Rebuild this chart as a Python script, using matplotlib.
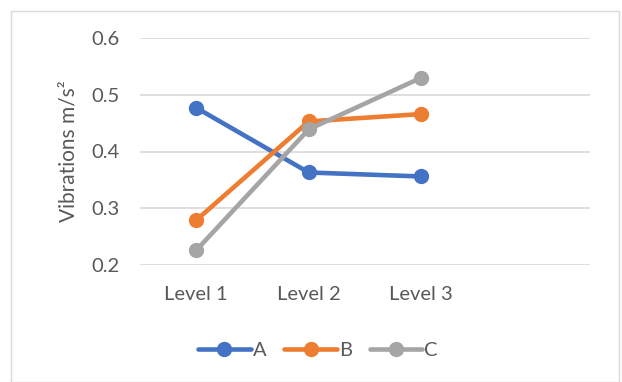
import matplotlib.pyplot as plt
from matplotlib.patches import Rectangle

plt.rcParams['font.family'] = ['Lato', 'DejaVu Sans']

levels = ['Level 1', 'Level 2', 'Level 3']
a_vals = [0.477, 0.363, 0.356]
b_vals = [0.279, 0.453, 0.466]
c_vals = [0.226, 0.439, 0.530]
series = [('A', a_vals, '#4472C4'), ('B', b_vals, '#ED7D31'), ('C', c_vals, '#A5A5A5')]

txt = '#595959'

fig = plt.figure(figsize=(6.22, 3.82), dpi=100)
# chart border
fig.patches.append(Rectangle((11 / 622, 0), 608 / 622, 371 / 382, transform=fig.transFigure,
                             fill=False, edgecolor='#d9d9d9', linewidth=1))

ax = fig.add_axes([140 / 622, 1 - 265 / 382, 450 / 622, 227 / 382])
x = list(range(len(levels)))
for name, vals, col in series:
    ax.plot(x, vals, color=col, linewidth=3.3, marker='o', markersize=10, label=name,
            solid_capstyle='round', zorder=3)

ax.set_xlim(-0.5, 3.5)
ax.set_ylim(0.2, 0.6)
ax.set_yticks([0.2, 0.3, 0.4, 0.5, 0.6])
ax.set_yticklabels(['0.2', '0.3', '0.4', '0.5', '0.6'])
ax.set_xticks(x)
ax.set_xticklabels(levels)
ax.grid(axis='y', color='#d9d9d9', linewidth=1.2)
ax.set_axisbelow(True)
for s in ax.spines.values():
    s.set_visible(False)
ax.tick_params(length=0, labelsize=14.5, colors=txt)
ax.tick_params(axis='y', pad=15)
ax.tick_params(axis='x', pad=15)
ax.set_ylabel('Vibrations m/s²', fontsize=15, color=txt, labelpad=9)

fig.legend(loc='center', bbox_to_anchor=(318 / 622, 1 - 350 / 382), ncol=3, frameon=False,
           fontsize=14.5, labelcolor=txt, handlelength=2.6, handletextpad=0.1, columnspacing=0.9)

fig.savefig('out.png', dpi=100)
